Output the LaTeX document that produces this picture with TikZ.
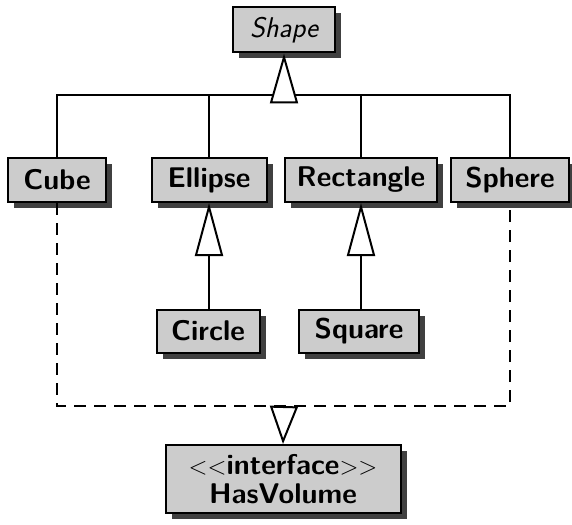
\documentclass[tikz,border=0pt]{standalone}
\usetikzlibrary{shadows,arrows.meta}
\begin{document}
\begin{tikzpicture}[x=1pt,y=-1pt,
  cls/.style={draw=black, line width=2pt, fill=black!20, inner sep=0pt,
    minimum height=44pt, font=\fontsize{28.5}{32}\selectfont\sffamily\bfseries,
    drop shadow={shadow xshift=6pt, shadow yshift=-6pt, fill=black!75, opacity=1}},
  conn/.style={line width=2pt, draw=black},
  inh/.style={conn, -{Triangle[length=#1, width=28pt, fill=white, line width=2pt]}},
  dsh/.style={conn, dash pattern=on 12pt off 8pt}]
\useasboundingbox (0,0) rectangle (572,524);
\node[cls, minimum width=102pt, minimum height=45pt, font=\fontsize{28.5}{32}\selectfont\sffamily\itshape] (shape) at (284,30) {Shape};
\node[cls, minimum width=98pt] (cube) at (57,180) {Cube};
\node[cls, minimum width=115pt] (ellipse) at (209,180) {Ellipse};
\node[cls, minimum width=152pt] (rect) at (361,180) {Rectangle};
\node[cls, minimum width=118pt] (sphere) at (510,180) {Sphere};
\node[cls, minimum width=103pt, minimum height=43pt] (circle) at (208,331) {Circle};
\node[cls, minimum width=120pt, minimum height=43pt] (square) at (359,331) {Square};
\node[cls, minimum width=235pt, minimum height=68pt, align=center,
  font=\fontsize{28.5}{29}\selectfont\sffamily\bfseries] (iface) at (283,479)
  {{\mdseries$<$$<$}interface{\mdseries$>$$>$}\\HasVolume};
\coordinate (bus) at (284,95);
\coordinate (tb) at (284,102);
\coordinate (dl) at (284,406);
\draw[conn] (cube.north) -- (cube.north |- bus) -- (sphere.north |- bus) -- (sphere.north);
\draw[conn] (ellipse.north) -- (ellipse.north |- bus);
\draw[conn] (rect.north) -- (rect.north |- bus);
\draw[inh=50pt] (tb) -- (shape.south);
\draw[inh=53pt] (ellipse.south |- circle.north) -- (ellipse.south);
\draw[inh=53pt] (rect.south |- square.north) -- (rect.south);
\draw[dsh] (cube.south) -- (cube.south |- dl) -- (sphere.south |- dl) -- (sphere.south);
\draw[inh=38pt] (dl) -- (iface.north);
\end{tikzpicture}
\end{document}
